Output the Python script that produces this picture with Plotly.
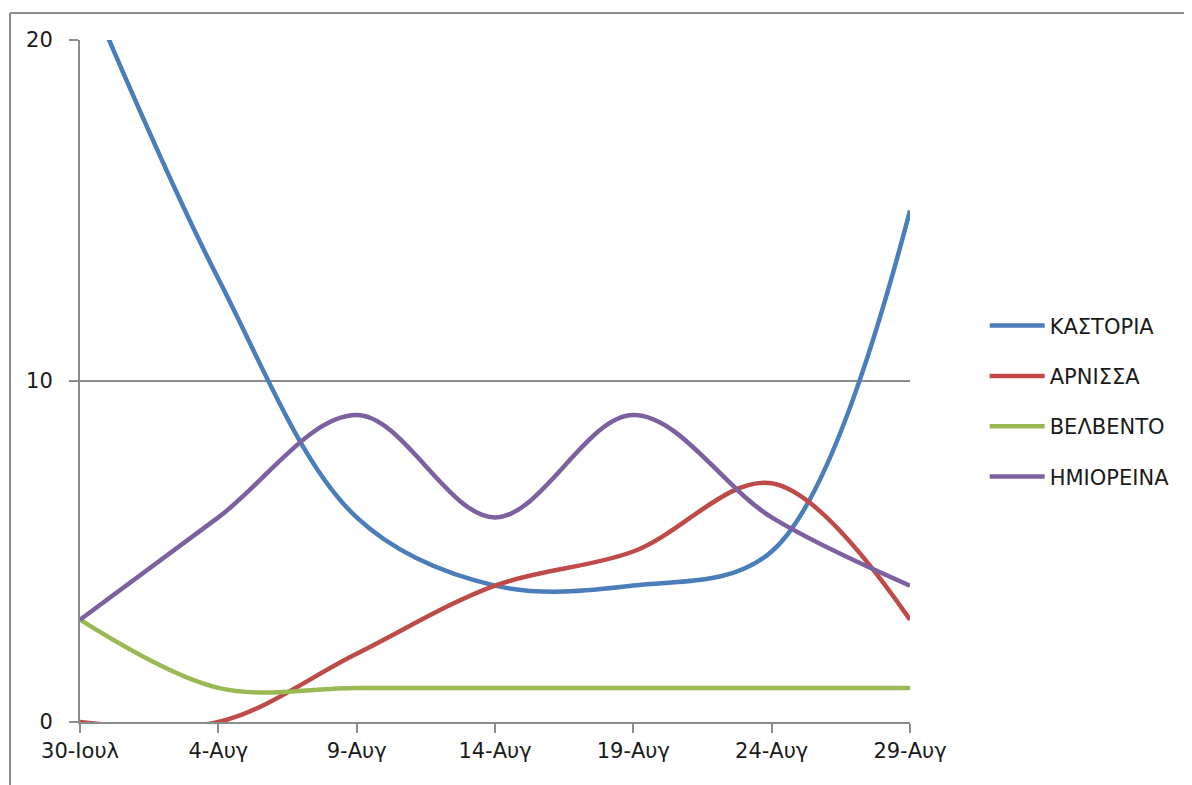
import plotly.graph_objects as go

dates = ["30-Ιουλ", "4-Αυγ", "9-Αυγ", "14-Αυγ", "19-Αυγ", "24-Αυγ", "29-Αυγ"]
kastoria = [22, 13, 6, 4, 4, 5, 15]
arnissa = [0, 0, 2, 4, 5, 7, 3]
velvento = [3, 1, 1, 1, 1, 1, 1]
imioreina = [3, 6, 9, 6, 9, 6, 4]

series_names = ["ΚΑΣΤΟΡΙΑ", "ΑΡΝΙΣΣΑ", "ΒΕΛΒΕΝΤΟ", "ΗΜΙΟΡΕΙΝΑ"]
series_vals = [kastoria, arnissa, velvento, imioreina]
colors = ["#4A7EBB", "#BE4B48", "#98B954", "#7D60A0"]

fig = go.Figure()
for i, (name, vals, col) in enumerate(zip(series_names, series_vals, colors)):
    fig.add_trace(go.Scatter(
        x=dates, y=vals, name=name, mode="lines",
        line=dict(color=col, width=4.5, shape="spline", smoothing=1.0),
        legendgroup=f"g{i}",
    ))

font = "DejaVu Sans, Verdana, sans-serif"
fig.update_layout(
    width=1184, height=777,
    margin=dict(l=72, r=282, t=32, b=63),
    paper_bgcolor="white", plot_bgcolor="white",
    font=dict(family=font, size=21, color="#1a1a1a"),
    showlegend=True,
    legend=dict(x=1.09, y=0.47, xanchor="left", yanchor="middle",
                font=dict(size=21, color="#1a1a1a"),
                tracegroupgap=20, itemwidth=55, traceorder="grouped"),
    xaxis=dict(type="category", range=[0, 6], showgrid=False,
               showline=True, linecolor="#8c8c8c", linewidth=2,
               ticks="outside", ticklen=9, tickcolor="#8c8c8c", tickwidth=2,
               tickfont=dict(size=21), zeroline=False),
    yaxis=dict(range=[0, 20], tickvals=[0, 10, 20], showgrid=True,
               gridcolor="#8c8c8c", gridwidth=2,
               showline=True, linecolor="#8c8c8c", linewidth=2,
               ticks="outside", ticklen=9, tickcolor="#8c8c8c", tickwidth=2,
               tickfont=dict(size=21), zeroline=False, ticklabelstandoff=12),
    shapes=[
        dict(type="line", xref="paper", yref="paper",
             x0=-0.0843, x1=1.4, y0=1.0396, y1=1.0396,
             line=dict(color="#8c8c8c", width=2)),
        dict(type="line", xref="paper", yref="paper",
             x0=-0.0843, x1=-0.0843, y0=-0.2, y1=1.0396,
             line=dict(color="#8c8c8c", width=2)),
    ],
)

fig.write_html("out.html")
